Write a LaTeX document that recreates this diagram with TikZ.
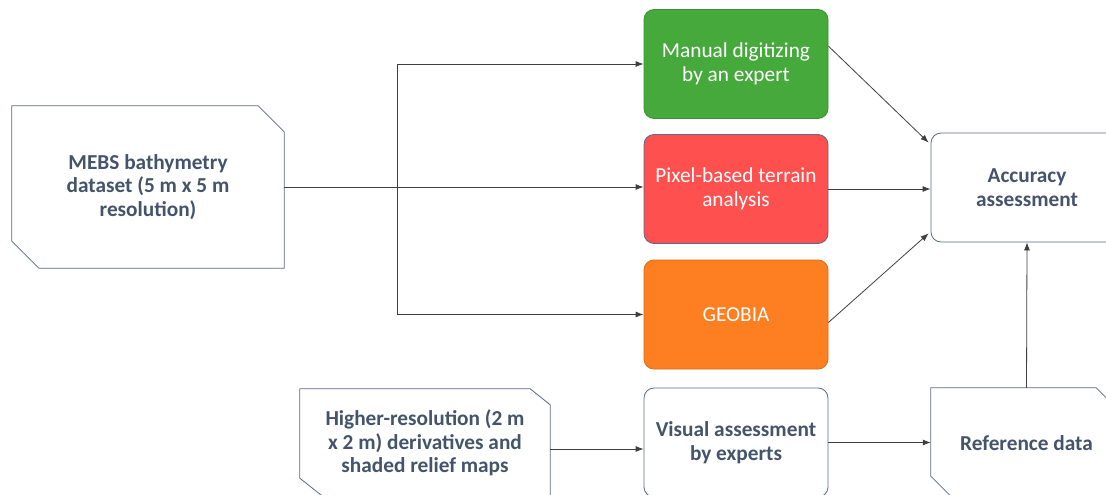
\documentclass[tikz,border=0pt]{standalone}
\usepackage{fontspec}
\setmainfont{Carlito}
\usetikzlibrary{arrows.meta,calc}
\definecolor{txt}{HTML}{44546A}
\definecolor{bord}{HTML}{5B6B85}
\definecolor{gfill}{HTML}{45AA3B}
\definecolor{gbord}{HTML}{3C8F34}
\definecolor{rfill}{HTML}{FF5050}
\definecolor{ofill}{HTML}{FD7F21}
\definecolor{obord}{HTML}{E06A10}
\definecolor{arr}{HTML}{3F3F3F}
\tikzset{
  base/.style={inner sep=0pt, align=center, font=\fontsize{21.3}{23.5}\selectfont},
  cutbox/.style={base, text=txt, font=\bfseries\fontsize{21.3}{23.5}\selectfont},
  colbox/.style={base, rounded corners=10pt, text=white, minimum width=184pt, minimum height=109pt},
  whitebox/.style={base, rounded corners=10pt, draw=bord, line width=0.8pt, fill=white, text=txt,
     font=\bfseries\fontsize{21.3}{23.5}\selectfont},
  outline/.style={draw=bord, line width=0.8pt},
  conn/.style={draw=arr, line width=0.8pt, -{Latex[length=8pt,width=6pt]}},
  plain/.style={draw=arr, line width=0.8pt}
}
\begin{document}
\begin{tikzpicture}[x=1pt,y=-1pt]
\useasboundingbox (0,0) rectangle (1106,495);
\clip (0,0) rectangle (1106,495);
\fill[white] (0,0) rectangle (1106,495);

% input boxes with cut corners
\node[cutbox, minimum width=272pt, minimum height=162pt] (mebs) at (148,187) {MEBS bathymetry\\dataset (5 m x 5 m\\resolution)};
\draw[outline] (mebs.north west) -- ([xshift=-26pt]mebs.north east) -- ([yshift=-26pt]mebs.north east)
  -- (mebs.south east) -- ([xshift=27pt]mebs.south west) -- ([yshift=27pt]mebs.south west) -- cycle;

\node[cutbox, minimum width=250pt, minimum height=108pt] (hr) at (425,443) {Higher-resolution (2 m\\x 2 m) derivatives and\\shaded relief maps};
\draw[outline] (hr.north west) -- ([xshift=-20pt]hr.north east) -- ([yshift=-16pt]hr.north east)
  -- (hr.south east) -- ([xshift=24pt]hr.south west) -- ([yshift=19pt]hr.south west) -- cycle;

\node[cutbox, minimum width=191pt, minimum height=110pt] (ref) at (1026.5,443) {Reference data};
\draw[outline] (ref.north west) -- ([xshift=-26pt]ref.north east) -- ([yshift=-26pt]ref.north east)
  -- (ref.south east) -- ([xshift=22pt]ref.south west) -- ([yshift=22pt]ref.south west) -- cycle;

% method boxes
\node[colbox, fill=gfill, draw=gbord, line width=0.8pt] (green) at (736,64) {Manual digitizing\\by an expert};
\node[colbox, fill=rfill, draw=bord, line width=0.8pt] (red) at (736,189) {Pixel-based terrain\\analysis};
\node[colbox, fill=ofill, draw=obord, line width=0.8pt] (orange) at (736,314.5) {GEOBIA};
\node[whitebox, minimum width=184pt, minimum height=109pt] (vis) at (736,442.5) {Visual assessment\\by experts};
\node[whitebox, minimum width=192pt, minimum height=109pt] (acc) at (1027,187.5) {Accuracy\\assessment};

% connectors
\coordinate (split) at (397,187);
\draw[plain] (mebs.east) -- (split);
\draw[conn] (split) -- (split -| red.west);
\draw[conn] (split) |- (green.west);
\draw[conn] (split) |- (orange.west);

\coordinate (gout) at ($(green.north east)+(0,37)$);
\coordinate (gin) at ($(acc.north west)+(-2,10)$);
\draw[conn] (gout) -- (gin);
\draw[conn] (red.east) -- (red.east -| acc.west);
\coordinate (oout) at ($(orange.east)+(0,8)$);
\coordinate (oin) at ($(acc.south west)+(-2,-9)$);
\draw[conn] (oout) -- (oin);

\coordinate (hrout) at ($(hr.east)+(0,6)$);
\draw[conn] (hrout) -- (hrout -| vis.west);
\draw[conn] (vis.east) -- (vis.east -| ref.west);
\draw[conn] (ref.north) -- (acc.south);
\end{tikzpicture}
\end{document}
